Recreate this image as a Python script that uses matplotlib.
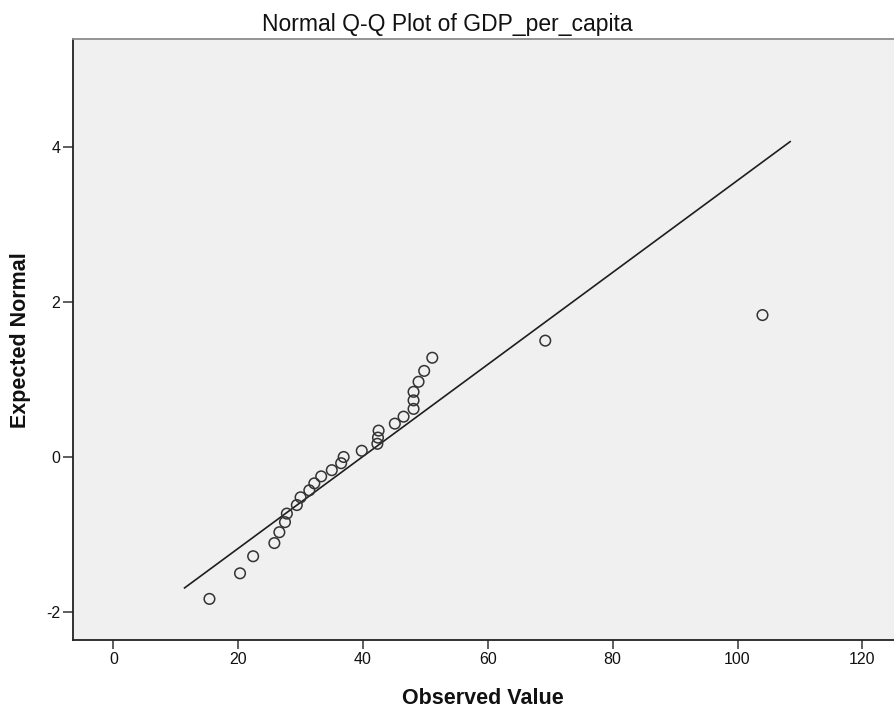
"""
Normal Q-Q plot of GDP_per_capita (SPSS style).
"""
import numpy as np
import matplotlib
matplotlib.use("Agg")
import matplotlib.pyplot as plt

plt.rcParams["font.family"] = ["Liberation Sans", "DejaVu Sans"]
plt.rcParams["axes.unicode_minus"] = False

observed = [15.4, 20.3, 22.4, 25.8, 26.6, 27.5, 27.8, 29.4, 30.0, 31.4,
            32.2, 33.3, 35.0, 36.5, 36.9, 39.8, 42.3, 42.4, 42.5, 45.1,
            46.5, 48.1, 48.1, 48.1, 48.9, 49.8, 51.1, 69.2, 104.0]
expected = [-1.83, -1.50, -1.28, -1.11, -0.97, -0.84, -0.73, -0.62, -0.52, -0.43,
            -0.34, -0.25, -0.17, -0.08, 0.00, 0.08, 0.17, 0.25, 0.34, 0.43,
            0.52, 0.62, 0.73, 0.84, 0.97, 1.11, 1.28, 1.50, 1.83]

x_ticks = [0, 20, 40, 60, 80, 100, 120]
y_ticks = [-2, 0, 2, 4]

W, H = 894, 711
fig = plt.figure(figsize=(W / 100, H / 100), dpi=100)
fig.patch.set_facecolor("white")

# axes box in pixel terms
left, right, top, bottom = 72.5, 894, 39, 640
ax = fig.add_axes([left / W, 1 - bottom / H, (right - left) / W, (bottom - top) / H])
ax.set_facecolor("#f0f0f0")

# reference line: standardised value of the observed data
obs = np.array(observed)
mu = obs.mean()
sd = obs.std(ddof=1)
span = obs.max() - obs.min()
xs = np.array([obs.min() - 0.045 * span, obs.max() + 0.05 * span])
ax.plot(xs, (xs - mu) / sd, color="#1e1e1e", linewidth=1.2, zorder=2)

ax.scatter(observed, expected, s=58, facecolors="none", edgecolors="#333333",
           linewidths=1.1, zorder=3)

ax.set_xlim(-6.54, 125.07)
ax.set_ylim(-2.36, 5.39)
ax.set_xticks(x_ticks)
ax.set_xticklabels([str(t) for t in x_ticks])
ax.set_yticks(y_ticks)
ax.set_yticklabels([str(t) for t in y_ticks])
ax.tick_params(axis="x", length=6.3, width=1.1, color="#333333", pad=2.4,
               labelsize=11.5, labelcolor="#111111")
ax.tick_params(axis="y", length=7.2, width=1.1, color="#333333", pad=1.5,
               labelsize=11.5, labelcolor="#111111")

for side in ["left", "bottom"]:
    ax.spines[side].set_color("#222222")
    ax.spines[side].set_linewidth(1.3)
ax.spines["top"].set_color("#8c8c8c")
ax.spines["top"].set_linewidth(1.3)
ax.spines["right"].set_visible(False)

fig.text(0.5, 1 - 30.7 / H, "Normal Q-Q Plot of GDP_per_capita", ha="center",
         va="baseline", fontsize=16.5, color="#111111")
fig.text((left + right) / 2 / W, 7 / H, "Observed Value", ha="center", va="baseline",
         fontsize=15.5, fontweight="bold", color="#111111")
fig.text(20.5 / W, 1 - 340 / H, "Expected Normal", ha="center", va="center",
         rotation=90, fontsize=15.5, fontweight="bold", color="#111111")

fig.savefig("out.png", dpi=100)
